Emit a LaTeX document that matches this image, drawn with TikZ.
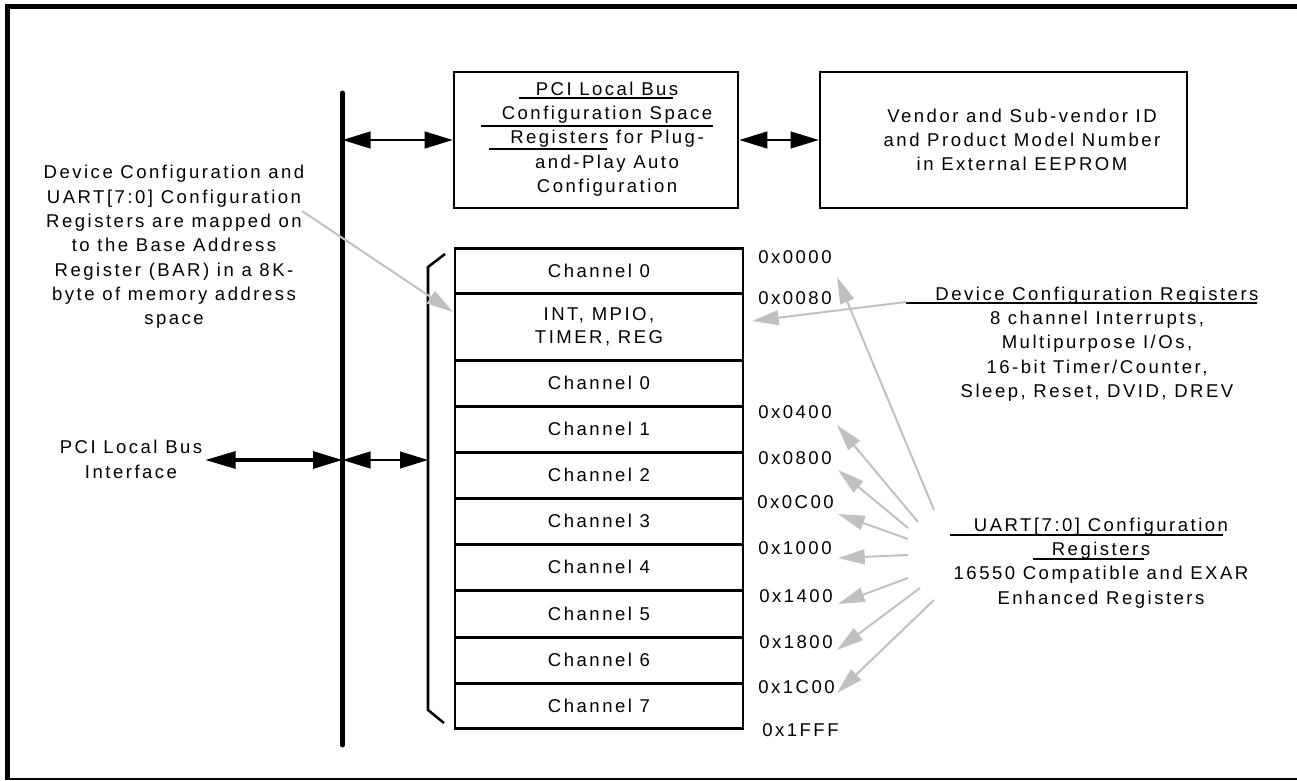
\documentclass[tikz,border=0pt]{standalone}
\usepackage{fontspec}
\setmainfont{Liberation Sans}[LetterSpace=13.5]
\usetikzlibrary{arrows.meta}
\definecolor{arrgray}{HTML}{C0C0C0}
\begin{document}
\begin{tikzpicture}[x=0.75pt,y=-0.75pt,
  txt/.style={font=\fontsize{13.9pt}{18.2pt}\selectfont, align=center, inner sep=0pt},
  boxnode/.style={draw, line width=1.9pt, inner sep=0pt},
  regrow/.style={draw, line width=1.9pt, minimum width=216pt, inner sep=0pt, anchor=north,
    font=\fontsize{13.9pt}{17pt}\selectfont, align=center},
  addr/.style={font=\fontsize{13.9pt}{18pt}\selectfont, inner sep=0pt, anchor=west},
  blk/.style={{Triangle[length=21pt,width=12.5pt]}-{Triangle[length=21pt,width=12.5pt]}, line width=1.5pt},
  blkthick/.style={{Triangle[length=23pt,width=12.5pt]}-{Triangle[length=22pt,width=12.5pt]}, line width=3pt},
  garr/.style={draw=arrgray, line width=1.5pt, -{Triangle[length=20pt,width=11pt]}},
  uline/.style={line width=1.1pt},
  frame/.style={line width=3.75pt}
]
\useasboundingbox (0,0) rectangle (1297,781);
% outer frame
\draw[frame] (5,6.7) -- (1297,6.7);
\draw[frame] (7.5,4.8) -- (7.5,779);
\draw[line width=1pt] (5,779) -- (1297,779);

% bus
\coordinate (bustop) at (342.5,93);
\coordinate (busbot) at (342.5,745);
\draw[line width=3.75pt, line cap=round] (bustop) -- (busbot);
\coordinate (busA) at (342.5,140);
\coordinate (busB) at (342.5,460);

% top boxes
\node[boxnode, minimum width=213pt, minimum height=102pt] (pcibox) at (596,140) {};
\node[txt] (pcitxt) at (607,139) {PCI Local Bus\\Configuration Space\\Registers for Plug-\\and-Play Auto\\Configuration};
\node[boxnode, minimum width=275.25pt, minimum height=102pt] (vendor) at (1003.5,140) {};
\node[txt] (vendtxt) at (1022,140) {Vendor and Sub-vendor ID\\and Product Model Number\\in External EEPROM};

\draw[uline] (519,98) -- (673,98);
\draw[uline] (481,126) -- (713,126);
\draw[uline] (489,149) -- (607,149);

\draw[blk] (busA) -- (pcibox.west);
\draw[blk] (pcibox.east) -- (vendor.west);

% left texts
\node[txt] (lefttxt) at (174,247) {Device Configuration and\\UART[7:0] Configuration\\Registers are mapped on\\to the Base Address\\Register (BAR) in a 8K-\\byte of memory address\\space};
\node[txt] (pciif) at (131,459.5) {PCI Local Bus\\Interface};
\coordinate (ifR) at (205,460);
\draw[blkthick] (ifR) -- (busB);

% register stack
\node[regrow, minimum height=33.75pt] (r1) at (599,247) {Channel 0};
\node[regrow, minimum height=50.25pt] (r2) at (599,292) {INT, MPIO,\\TIMER, REG};
\node[regrow, minimum height=34.5pt] (r3) at (599,359) {Channel 0};
\node[regrow, minimum height=34.5pt] (r4) at (599,405) {Channel 1};
\node[regrow, minimum height=34.5pt] (r5) at (599,451) {Channel 2};
\node[regrow, minimum height=34.5pt] (r6) at (599,497) {Channel 3};
\node[regrow, minimum height=34.5pt] (r7) at (599,543) {Channel 4};
\node[regrow, minimum height=35.25pt] (r8) at (599,589) {Channel 5};
\node[regrow, minimum height=34.5pt] (r9) at (599,636) {Channel 6};
\node[regrow, minimum height=33.75pt] (r10) at (599,682) {Channel 7};

% bracket
\draw[line width=1.9pt] (445,254) -- (428,267) -- (428,710) -- (444,723);
\coordinate (brk) at (428,460);
\draw[blk] (busB) -- (brk);

% address labels
\node[addr] (a0000) at (758,257) {0x0000};
\node[addr] (a0080) at (758,298) {0x0080};
\node[addr] (a0400) at (758,412) {0x0400};
\node[addr] (a0800) at (758,458) {0x0800};
\node[addr] (a0C00) at (757,502) {0x0C00};
\node[addr] (a1000) at (758,548) {0x1000};
\node[addr] (a1400) at (759,596) {0x1400};
\node[addr] (a1800) at (759,642) {0x1800};
\node[addr] (a1C00) at (758,687) {0x1C00};
\node[addr] (a1FFF) at (762,730) {0x1FFF};

% right texts
\node[txt] (devreg) at (1097,344) {Device Configuration Registers\\8 channel Interrupts,\\Multipurpose I/Os,\\16-bit Timer/Counter,\\Sleep, Reset, DVID, DREV};
\draw[uline] (906,303) -- (1257,303);
\node[txt] (uart) at (1101,563) {UART[7:0] Configuration\\Registers\\16550 Compatible and EXAR\\Enhanced Registers};
\draw[uline] (950,535) -- (1223,535);
\draw[uline] (1033,559) -- (1144,559);

% gray arrows
\coordinate (lt) at (302,211);
\coordinate (lttip) at (453,312);
\draw[garr] (lt) -- (lttip);
\coordinate (dt) at (906,302);
\coordinate (dttip) at (752,321);
\draw[garr] (dt) -- (dttip);

\coordinate (f0) at (934,510);  \coordinate (p0) at (837,277);
\coordinate (f1) at (918,522);  \coordinate (p1) at (837,425);
\coordinate (f2) at (908,528);  \coordinate (p2) at (838,470);
\coordinate (f3) at (908,539);  \coordinate (p3) at (838,514);
\coordinate (f4) at (908,555);  \coordinate (p4) at (838,558);
\coordinate (f5) at (908,578);  \coordinate (p5) at (838,604);
\coordinate (f6) at (920,588);  \coordinate (p6) at (837,650);
\coordinate (f7) at (934,600);  \coordinate (p7) at (837,693);
\foreach \i in {0,...,7} { \draw[garr] (f\i) -- (p\i); }
\end{tikzpicture}
\end{document}
